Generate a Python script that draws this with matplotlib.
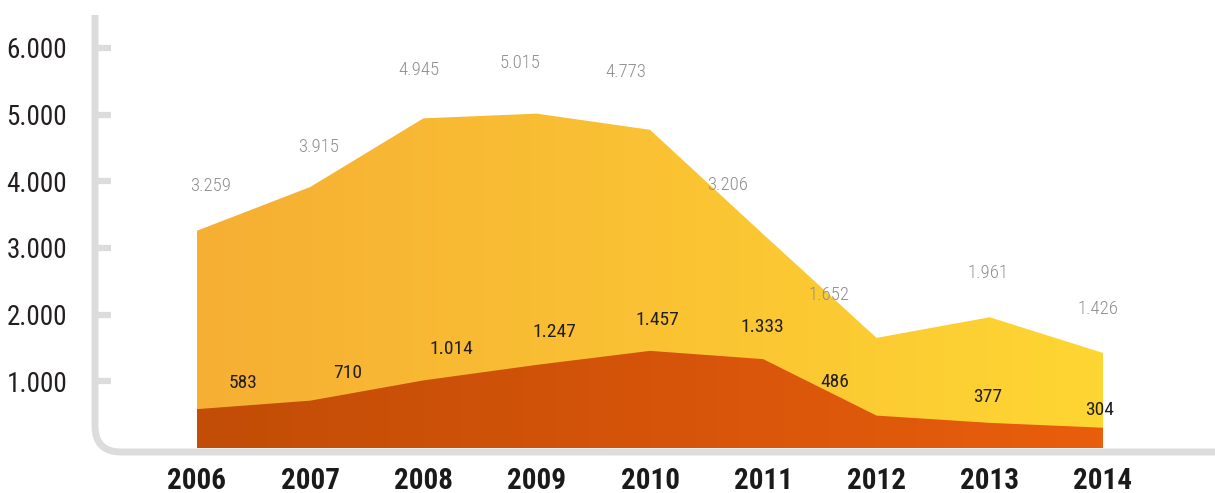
import numpy as np
import matplotlib
matplotlib.use('Agg')
import matplotlib.pyplot as plt
import matplotlib.transforms as mtransforms
from matplotlib.colors import LinearSegmentedColormap
from matplotlib.path import Path
from matplotlib.patches import PathPatch
from matplotlib.ticker import FuncFormatter

# data
years = [2006, 2007, 2008, 2009, 2010, 2011, 2012, 2013, 2014]
total = [3259, 3915, 4945, 5015, 4773, 3206, 1652, 1961, 1426]
part = [583, 710, 1014, 1247, 1457, 1333, 486, 377, 304]
y_ticks = [1000, 2000, 3000, 4000, 5000, 6000]

# label nudges in pixels (layout only)
top_dx = [14, 8, -5, -17, -24, -36, -47, -2, -5]
top_dy = [45, 40, 48, 51, 58, 49, 43, 44, 44]
low_dx = [46, 37, 28, 18, 7, -1, -42, -2, -3]
low_dy = [26, 28, 31, 33, 31, 32, 34, 26, 18]

plt.rcParams['font.family'] = ['Liberation Sans Narrow', 'Roboto Condensed',
                               'Open Sans Condensed', 'Noto Sans Condensed',
                               'DejaVu Sans']
plt.rcParams['font.stretch'] = 'condensed'

W, H = 1215, 493
fig = plt.figure(figsize=(W / 100, H / 100), dpi=100)
ax = fig.add_axes([95 / W, (H - 448) / H, (W - 95) / W, (448 - 15) / H])
ax.patch.set_visible(False)

px_year = 113.25
px_unit = 66.67 / 1000
xlim = (2006 - (197 - 95) / px_year, 2006 + (W - 197) / px_year)
ylim = (0, (448 - 15) / px_unit)


def fmt(v):
    return f"{v:,}".replace(',', '.')


def gradient_area(x, y, colors, z):
    poly = ax.fill_between(x, 0, y, facecolor='none', edgecolor='none')
    patch = PathPatch(poly.get_paths()[0], facecolor='none', edgecolor='none',
                      transform=ax.transData)
    ax.add_patch(patch)
    cmap = LinearSegmentedColormap.from_list('g', colors)
    grad = np.linspace(0, 1, 256).reshape(1, -1)
    im = ax.imshow(grad, cmap=cmap, aspect='auto', origin='lower',
                   extent=[x[0], x[-1], 0, max(y)], zorder=z,
                   interpolation='bilinear')
    im.set_clip_path(patch)


gradient_area(years, total, ['#F6AF33', '#FAC233', '#FED632'], 1)
gradient_area(years, part, ['#C24D06', '#D5540A', '#E95E0C'], 2)

ax.set_xlim(*xlim)
ax.set_ylim(*ylim)

for sp in ax.spines.values():
    sp.set_visible(False)

ax.set_yticks(y_ticks)
ax.yaxis.set_major_formatter(FuncFormatter(lambda v, p: fmt(int(v))))
ax.tick_params(axis='y', direction='in', length=11.5, width=4.5,
               color='#DCDCDC', pad=20, labelsize=19.5, labelcolor='#231F20')
ax.set_xticks(years)
ax.set_xticklabels([str(y) for y in years])
ax.tick_params(axis='x', length=0, pad=14, labelsize=21, labelcolor='#1A1A1A')
for lbl in ax.get_xticklabels():
    lbl.set_fontweight('bold')

# L-shaped axis with rounded corner, in figure pixels
px = mtransforms.Affine2D().scale(1 / 100, -1 / 100).translate(0, H / 100) + fig.dpi_scale_trans
r = 26
verts = [(95, 15), (95, 452 - r), (95, 452), (95 + r, 452), (W, 452)]
codes = [Path.MOVETO, Path.LINETO, Path.CURVE3, Path.CURVE3, Path.LINETO]
axis_line = PathPatch(Path(verts, codes), facecolor='none', edgecolor='#DCDCDC',
                      linewidth=5, transform=px, zorder=0, capstyle='butt')
fig.add_artist(axis_line)

for i, yr in enumerate(years):
    ax.annotate(fmt(total[i]), (yr, total[i]),
                xytext=(top_dx[i] * 0.72, top_dy[i] * 0.72), textcoords='offset points',
                ha='center', va='center', fontsize=13.5, fontweight='light',
                color='#8E8E8E', zorder=5)
    ax.annotate(fmt(part[i]), (yr, part[i]),
                xytext=(low_dx[i] * 0.72, low_dy[i] * 0.72), textcoords='offset points',
                ha='center', va='center', fontsize=14, color='#231F20', zorder=5)

fig.savefig('out.png', dpi=100)
